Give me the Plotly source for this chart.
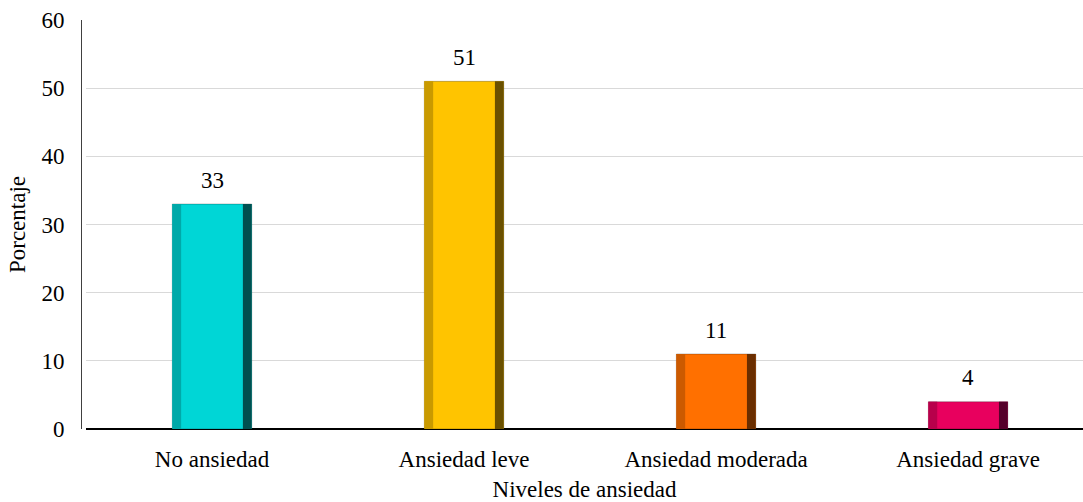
import plotly.graph_objects as go

categories = ["No ansiedad", "Ansiedad leve", "Ansiedad moderada", "Ansiedad grave"]
values = [33, 51, 11, 4]
base_colors = ["#00d6d6", "#ffc400", "#ff7000", "#e8005e"]
left_colors = ["#00a9a9", "#c99a00", "#cc5a00", "#b8004b"]
right_colors = ["#005050", "#6a5000", "#6a2e00", "#55002a"]
y_ticks = [0, 10, 20, 30, 40, 50, 60]

FONT = "'Liberation Serif', 'DejaVu Serif', serif"
W = 0.315

fig = go.Figure()
fig.add_trace(go.Bar(x=categories, y=values, width=W,
                     marker=dict(color=base_colors, line=dict(color="rgba(0,0,0,0.25)", width=1)),
                     hoverinfo="skip"))
# left shade strip
fig.add_trace(go.Bar(x=categories, y=values, width=0.035, offset=-W / 2,
                     marker=dict(color=left_colors, line=dict(width=0)), hoverinfo="skip"))
# right dark strip
fig.add_trace(go.Bar(x=categories, y=values, width=0.035, offset=W / 2 - 0.035,
                     marker=dict(color=right_colors, line=dict(width=0)), hoverinfo="skip"))

for c, v in zip(categories, values):
    fig.add_annotation(x=c, y=v, text=str(v), showarrow=False, yshift=24,
                       font=dict(family=FONT, size=23, color="#000000"))

fig.update_layout(
    width=1083, height=502,
    margin=dict(l=81, r=0, t=20, b=73),
    paper_bgcolor="white", plot_bgcolor="white",
    barmode="overlay", showlegend=False,
    font=dict(family=FONT, size=23, color="#000000"),
    xaxis=dict(domain=[0.005, 1], range=[-0.5, 3.456], showgrid=False, automargin=False,
               showline=False, ticks="outside", ticklen=9, tickcolor="rgba(0,0,0,0)",
               tickfont=dict(family=FONT, size=23),
               title=dict(text="Niveles de ansiedad", font=dict(family=FONT, size=23), standoff=16)),
    yaxis=dict(range=[0, 60], tickvals=y_ticks, showgrid=True, gridcolor="#d9d9d9",
               gridwidth=1, zeroline=True, zerolinecolor="#000000", zerolinewidth=2,
               showline=True, linecolor="#404040", linewidth=1, automargin=False,
               anchor="free", position=0, ticks="", ticklabelstandoff=12,
               tickfont=dict(family=FONT, size=23),
               title=dict(text="Porcentaje", font=dict(family=FONT, size=23), standoff=8)),
)

fig.write_html("out.html")
